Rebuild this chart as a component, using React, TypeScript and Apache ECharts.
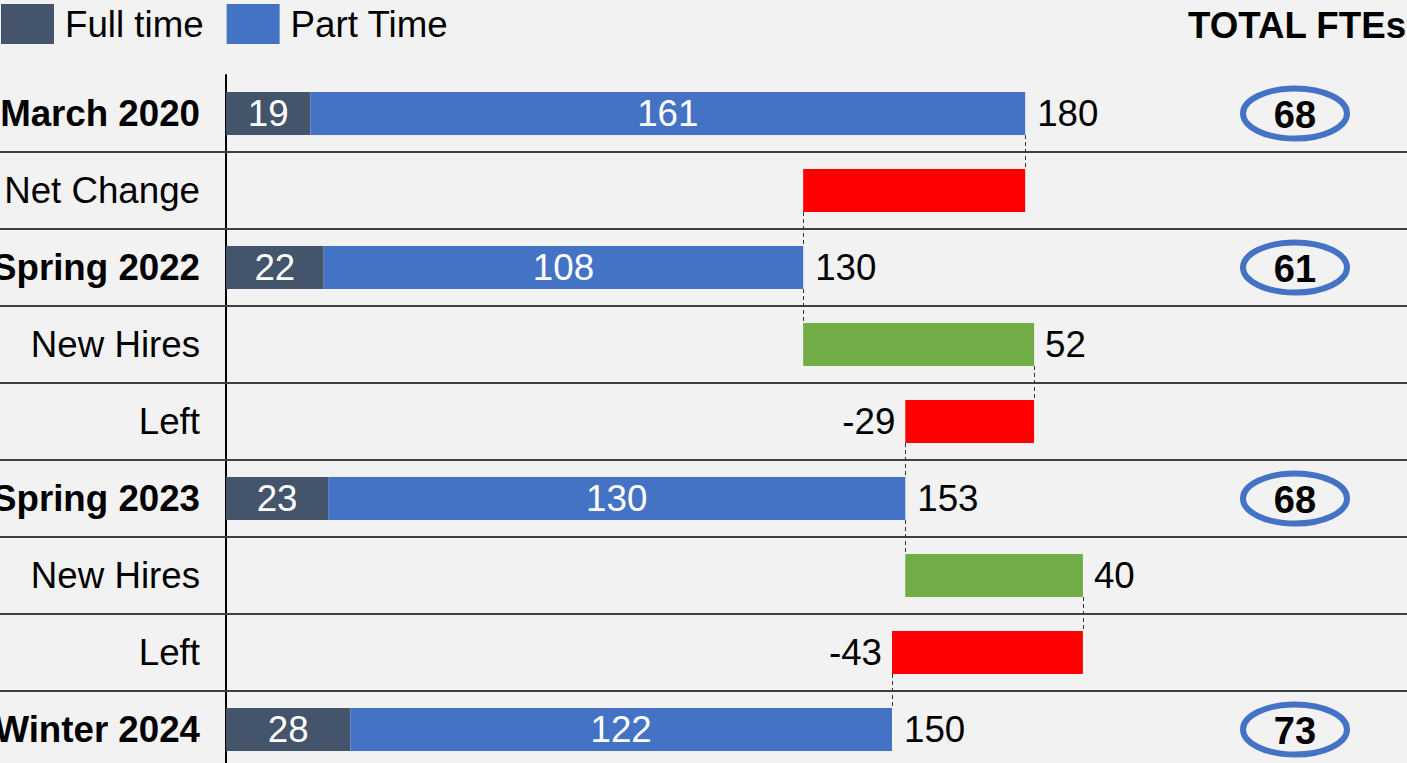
import React, { useEffect, useRef } from "react";
import * as echarts from "echarts";

const categories = [
  "March 2020",
  "Net Change",
  "Spring 2022",
  "New Hires",
  "Left",
  "Spring 2023",
  "New Hires",
  "Left",
  "Winter 2024",
];
const fullTime = [19, null, 22, null, null, 23, null, null, 28];
const partTime = [161, null, 108, null, null, 130, null, null, 122];
const changes = [null, -50, null, 52, -29, null, 40, -43, null];
const showChangeLabel = [false, false, false, true, true, false, true, true, false];
const fteTotals = [68, null, 61, null, null, 68, null, null, 73];
const legendNames = ["Full time", "Part Time"];
const fteHeader = "TOTAL FTEs";

const FONT = "'Liberation Sans', Arial, sans-serif";
const FS = 36.7;
const BAR_H = 43;

export default function App() {
  const ref = useRef<HTMLDivElement>(null);

  useEffect(() => {
    if (!ref.current) return;
    const chart = echarts.init(ref.current, null, { renderer: "svg" });

    const levels: number[] = [];
    const base: (number | null)[] = [];
    const inc: any[] = [];
    const dec: any[] = [];
    let level = 0;
    categories.forEach((_, i) => {
      if (fullTime[i] != null) {
        level = (fullTime[i] as number) + (partTime[i] as number);
        base.push(0);
        inc.push(null);
        dec.push(null);
      } else {
        const c = changes[i] as number;
        const next = level + c;
        base.push(Math.min(level, next));
        if (c > 0) {
          inc.push({ value: c, label: { show: showChangeLabel[i] } });
          dec.push(null);
        } else {
          dec.push({ value: -c, label: { show: showChangeLabel[i] } });
          inc.push(null);
        }
        level = next;
      }
      levels.push(level);
    });

    const totalLabelData = categories
      .map((_, i) => (fullTime[i] != null ? [levels[i], i] : null))
      .filter((d) => d != null);
    const connectorData = levels.slice(0, -1).map((v, i) => [v, i]);
    const separatorData = categories.slice(0, -1).map((_, i) => [0, i]);
    const fteData = fteTotals
      .map((v, i) => (v != null ? [0, i, v] : null))
      .filter((d) => d != null);

    const option: any = {
      animation: false,
      backgroundColor: "#f2f2f2",
      textStyle: { fontFamily: FONT },
      grid: {
        left: 226,
        right: 0,
        top: 75,
        bottom: -5,
        containLabel: false,
        outerBoundsMode: "none",
      },
      legend: {
        data: legendNames,
        left: 1,
        top: 4,
        padding: 0,
        icon: "rect",
        itemWidth: 53,
        itemHeight: 40,
        itemGap: 23,
        selectedMode: false,
        textStyle: {
          fontSize: FS,
          color: "#000",
          fontFamily: FONT,
          padding: [0, 0, 0, 6],
        },
      },
      graphic: [
        {
          type: "text",
          x: 1297,
          y: 25,
          style: {
            text: fteHeader,
            fill: "#000",
            fontSize: FS,
            fontWeight: "bold",
            fontFamily: FONT,
            align: "center",
            verticalAlign: "middle",
          },
        },
      ],
      xAxis: {
        type: "value",
        min: 0,
        max: 266,
        show: false,
        splitLine: { show: false },
      },
      yAxis: {
        type: "category",
        inverse: true,
        data: categories,
        axisTick: { show: false },
        axisLine: { show: true, lineStyle: { color: "#000", width: 2 } },
        splitLine: { show: false },
        axisLabel: {
          margin: 26,
          color: "#000",
          fontSize: FS,
          fontFamily: FONT,
          formatter: (v: string, i: number) =>
            fullTime[i] != null ? `{b|${v}}` : `{n|${v}}`,
          rich: {
            b: { fontWeight: "bold", fontSize: FS, fontFamily: FONT, color: "#000" },
            n: { fontSize: FS, fontFamily: FONT, color: "#000" },
          },
        },
      },
      series: [
        {
          type: "custom",
          name: "separators",
          z: 1,
          silent: true,
          clip: false,
          data: separatorData,
          encode: { x: 0, y: 1 },
          renderItem: (params: any, api: any) => {
            const p = api.coord([0, api.value(1)]);
            const band = api.size([0, 1])[1];
            const y = p[1] + band / 2;
            return {
              type: "line",
              shape: { x1: 0, y1: y, x2: api.getWidth(), y2: y },
              style: { stroke: "#404040", lineWidth: 2 },
            };
          },
        },
        {
          type: "custom",
          name: "connectors",
          z: 1,
          silent: true,
          clip: false,
          data: connectorData,
          encode: { x: 0, y: 1 },
          renderItem: (params: any, api: any) => {
            const p = api.coord([api.value(0), api.value(1)]);
            const band = api.size([0, 1])[1];
            const x = Math.round(p[0]) + 0.5;
            return {
              type: "line",
              shape: {
                x1: x,
                y1: p[1] + BAR_H / 2,
                x2: x,
                y2: p[1] + band - BAR_H / 2,
              },
              style: { stroke: "#333", lineWidth: 1, lineDash: [4, 3] },
            };
          },
        },
        {
          type: "bar",
          name: "base",
          stack: "w",
          barWidth: BAR_H,
          silent: true,
          itemStyle: { color: "transparent" },
          data: base,
          z: 2,
        },
        {
          type: "bar",
          name: legendNames[0],
          stack: "w",
          barWidth: BAR_H,
          itemStyle: { color: "#44546a" },
          label: {
            show: true,
            position: "inside",
            color: "#fff",
            fontSize: FS,
            fontFamily: FONT,
          },
          data: fullTime,
          z: 2,
        },
        {
          type: "bar",
          name: legendNames[1],
          stack: "w",
          barWidth: BAR_H,
          itemStyle: { color: "#4472c4" },
          label: {
            show: true,
            position: "inside",
            color: "#fff",
            fontSize: FS,
            fontFamily: FONT,
          },
          data: partTime,
          z: 2,
        },
        {
          type: "bar",
          name: "Decrease",
          stack: "w",
          barWidth: BAR_H,
          itemStyle: { color: "#ff0000" },
          label: {
            show: true,
            position: "left",
            distance: 10,
            color: "#000",
            fontSize: FS,
            fontFamily: FONT,
            formatter: (p: any) => String(changes[p.dataIndex]),
          },
          data: dec,
          z: 2,
        },
        {
          type: "bar",
          name: "Increase",
          stack: "w",
          barWidth: BAR_H,
          itemStyle: { color: "#70ad47" },
          label: {
            show: true,
            position: "right",
            distance: 11,
            color: "#000",
            fontSize: FS,
            fontFamily: FONT,
            formatter: (p: any) => String(changes[p.dataIndex]),
          },
          data: inc,
          z: 2,
        },
        {
          type: "custom",
          name: "totals",
          z: 3,
          silent: true,
          clip: false,
          data: totalLabelData,
          encode: { x: 0, y: 1 },
          renderItem: (params: any, api: any) => {
            const v = api.value(0);
            const p = api.coord([v, api.value(1)]);
            return {
              type: "text",
              x: p[0] + 12,
              y: p[1],
              style: {
                text: String(v),
                fill: "#000",
                fontSize: FS,
                fontFamily: FONT,
                align: "left",
                textAlign: "left",
                verticalAlign: "middle",
                textVerticalAlign: "middle",
              },
            };
          },
        },
        {
          type: "custom",
          name: "fte",
          z: 3,
          silent: true,
          clip: false,
          data: fteData,
          encode: { x: 0, y: 1 },
          renderItem: (params: any, api: any) => {
            const p = api.coord([0, api.value(1)]);
            const cx = api.getWidth() - 112;
            return {
              type: "group",
              children: [
                {
                  type: "ellipse",
                  shape: { cx, cy: p[1], rx: 52, ry: 25 },
                  style: { fill: "none", stroke: "#4472c4", lineWidth: 6 },
                },
                {
                  type: "text",
                  x: cx,
                  y: p[1] + 1,
                  style: {
                    text: String(api.value(2)),
                    fill: "#000",
                    fontSize: 38,
                    fontWeight: "bold",
                    fontFamily: FONT,
                    align: "center",
                    textAlign: "center",
                    verticalAlign: "middle",
                    textVerticalAlign: "middle",
                  },
                },
              ],
            };
          },
        },
      ],
    };

    chart.setOption(option);
    return () => chart.dispose();
  }, []);

  return (
    <div
      ref={ref}
      style={{ position: "fixed", left: 0, top: 0, width: 1407, height: 763 }}
    />
  );
}
